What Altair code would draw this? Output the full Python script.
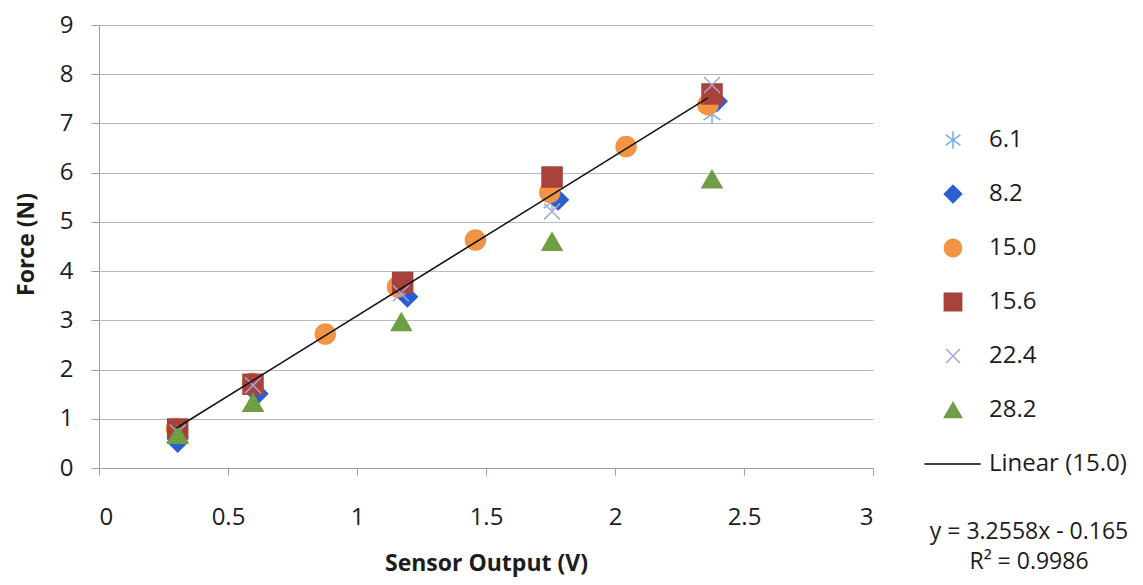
import altair as alt
import pandas as pd

# ---- data ----
SERIES = ["6.1", "8.2", "15.0", "15.6", "22.4", "28.2"]
TREND_LABEL = "Linear (15.0)"

X_61 = [0.305, 0.597, 1.175, 1.756, 2.376]
Y_61 = [0.75, 1.65, 3.60, 5.40, 7.19]
X_82 = [0.305, 0.615, 1.195, 1.780, 2.395]
Y_82 = [0.53, 1.51, 3.48, 5.45, 7.45]
X_150 = [0.300, 0.595, 0.877, 1.157, 1.459, 1.747, 2.043, 2.360]
Y_150 = [0.80, 1.72, 2.72, 3.68, 4.63, 5.60, 6.53, 7.38]
X_156 = [0.305, 0.597, 1.177, 1.756, 2.376]
Y_156 = [0.79, 1.70, 3.77, 5.91, 7.60]
X_224 = [0.305, 0.597, 1.170, 1.756, 2.376]
Y_224 = [0.72, 1.68, 3.55, 5.21, 7.78]
X_282 = [0.305, 0.597, 1.172, 1.756, 2.376]
Y_282 = [0.68, 1.33, 2.97, 4.60, 5.87]

TREND_SLOPE = 3.2558
TREND_INTERCEPT = -0.165
R_SQUARED = 0.9986

X_TICKS = [0, 0.5, 1, 1.5, 2, 2.5, 3]
Y_TICKS = [0, 1, 2, 3, 4, 5, 6, 7, 8, 9]

# ---- styles ----
FONT = "Open Sans"
TEXT_COLOR = "#1c1c1c"
AXIS_COLOR = "#9a9cb2"
GRID_COLOR = "#b6b9c9"
COLORS = ["#78aee3", "#2a5fd2", "#f19445", "#a8423a", "#a4a4dc", "#6f9e45", "#000000"]
ASTERISK = "M0,-1L0,1M-0.85,-0.6L0.85,0.6M-0.85,0.6L0.85,-0.6"
XSHAPE = "M-0.8,-0.8L0.8,0.8M-0.8,0.8L0.8,-0.8"
LINESYM = "M-3.3,0L3.2,0"
SHAPES = [ASTERISK, "diamond", "circle", "square", XSHAPE, "triangle-up", LINESYM]
DOMAIN = SERIES + [TREND_LABEL]

rows = []
for name, xs, ys in zip(SERIES, [X_61, X_82, X_150, X_156, X_224, X_282],
                        [Y_61, Y_82, Y_150, Y_156, Y_224, Y_282]):
    for xv, yv in zip(xs, ys):
        rows.append({"series": name, "volt": xv, "force": yv})
points = pd.DataFrame(rows)

trend = pd.DataFrame({"volt": [min(X_150), max(X_150)]})
sign = "-" if TREND_INTERCEPT < 0 else "+"
eq = pd.DataFrame({"label": [f"y = {TREND_SLOPE}x {sign} {abs(TREND_INTERCEPT)}\nR\u00b2 = {R_SQUARED}"]})

x_enc = alt.X(
    "volt:Q",
    title="Sensor Output (V)",
    scale=alt.Scale(domain=[0, 3], nice=False),
    axis=alt.Axis(
        values=X_TICKS, format="~g", grid=False,
        labelFont=FONT, labelFontSize=24, labelColor=TEXT_COLOR, labelPadding=30,
        tickSize=7, tickColor=AXIS_COLOR, domainColor=AXIS_COLOR,
        titleFont=FONT, titleFontSize=23, titleFontWeight="bold", titleColor=TEXT_COLOR,
        titleX=387, titleY=95, titleAlign="center", titleBaseline="middle",
    ),
)
y_enc = alt.Y(
    "force:Q",
    title="Force (N)",
    scale=alt.Scale(domain=[0, 9], nice=False),
    axis=alt.Axis(
        values=Y_TICKS, format="d", grid=True, gridColor=GRID_COLOR, gridWidth=1,
        labelFont=FONT, labelFontSize=24, labelColor=TEXT_COLOR, labelPadding=18,
        tickSize=8, tickColor=AXIS_COLOR, domainColor=AXIS_COLOR,
        titleFont=FONT, titleFontSize=23, titleFontWeight="bold", titleColor=TEXT_COLOR,
        titleX=-73, titleY=219, titleAlign="center", titleBaseline="middle",
    ),
)

pts = alt.Chart(points).mark_point(filled=True, opacity=1, size=400, strokeWidth=1.5).encode(
    x=x_enc,
    y=y_enc,
    fill=alt.Fill("series:N", title=None, scale=alt.Scale(domain=DOMAIN, range=COLORS)),
    stroke=alt.Stroke("series:N", title=None, scale=alt.Scale(domain=DOMAIN, range=COLORS)),
    shape=alt.Shape("series:N", title=None, scale=alt.Scale(domain=DOMAIN, range=SHAPES)),
)

trend_line = alt.Chart(trend).transform_calculate(
    force=f"{TREND_SLOPE} * datum.volt + ({TREND_INTERCEPT})"
).mark_line(color="#111111", strokeWidth=1.6).encode(
    x="volt:Q",
    y="force:Q",
)

eq_text = alt.Chart(eq).mark_text(
    font=FONT, fontSize=23, color=TEXT_COLOR, align="center", baseline="middle",
    lineBreak="\n", lineHeight=30,
).encode(
    x=alt.value(930),
    y=alt.value(507),
    text="label:N",
)

chart = alt.layer(pts, trend_line, eq_text).properties(
    width=774,
    height=443,
    padding={"left": 91, "top": 17, "right": 262, "bottom": 109},
    autosize=alt.AutoSizeParams(type="none"),
    background="white",
).configure_view(
    strokeWidth=0,
).configure_legend(
    orient="none",
    legendX=842,
    legendY=103,
    padding=0,
    symbolSize=300,
    symbolStrokeWidth=1.5,
    labelFont=FONT,
    labelFontSize=24,
    labelColor=TEXT_COLOR,
    labelOffset=24,
    rowPadding=30,
)

chart.save("out.html", embed_options={"renderer": "svg", "actions": False})
